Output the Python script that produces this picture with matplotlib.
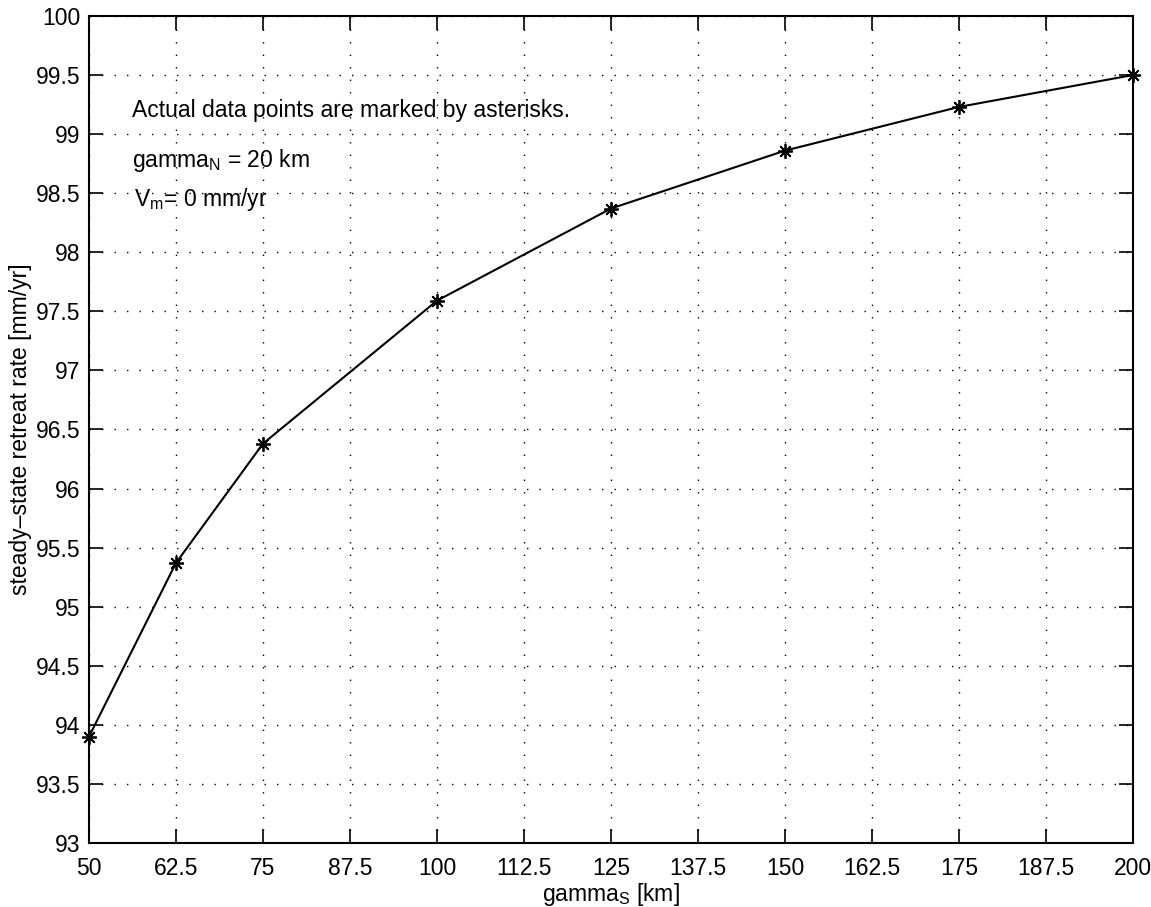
import numpy as np
import matplotlib.pyplot as plt

plt.rcParams['font.family'] = ['Liberation Sans', 'DejaVu Sans']
plt.rcParams['mathtext.fontset'] = 'custom'
plt.rcParams['mathtext.rm'] = 'Liberation Sans'
plt.rcParams['mathtext.it'] = 'Liberation Sans'

# southern gamma [km] vs steady-state retreat rate [mm/yr]
gamma_s = [50, 62.5, 75, 100, 125, 150, 175, 200]
retreat_rate = [93.90, 95.37, 96.38, 97.59, 98.37, 98.86, 99.23, 99.50]

xticks = np.arange(50, 200.1, 12.5)
xticklabels = ['50', '62.5', '75', '87.5', '100', '112.5', '125', '137.5',
               '150', '162.5', '175', '187.5', '200']
yticks = np.arange(93, 100.01, 0.5)
yticklabels = ['93', '93.5', '94', '94.5', '95', '95.5', '96', '96.5',
               '97', '97.5', '98', '98.5', '99', '99.5', '100']

fs = 16.5
fig = plt.figure(figsize=(11.51, 9.07), dpi=100)
ax = fig.add_axes([0.0773, 0.0706, 0.9070, 0.9118])

ax.plot(gamma_s, retreat_rate, color='black', linewidth=1.5,
        marker=(8, 2, 0), markersize=10.5, markeredgewidth=1.3, clip_on=False,
        zorder=5)

ax.set_xlim(50, 200)
ax.set_ylim(93, 100)
ax.set_xticks(xticks)
ax.set_xticklabels(xticklabels)
ax.set_yticks(yticks)
ax.set_yticklabels(yticklabels)
ax.tick_params(direction='in', length=10, width=1.2, labelsize=fs,
               top=True, right=True, colors='black')
ax.tick_params(axis='x', pad=10)
ax.tick_params(axis='y', pad=6)
for s in ax.spines.values():
    s.set_linewidth(1.5)

ax.grid(True, color='black', linestyle=(0, (1, 8)), linewidth=1.0)

ax.set_xlabel('gamma$_{\\mathrm{S}}$ [km]', fontsize=fs, labelpad=1)
ax.set_ylabel('steady\u2013state retreat rate [mm/yr]', fontsize=fs, labelpad=3)

ax.text(56.2, 99.2, 'Actual data points are marked by asterisks.',
        fontsize=fs, va='center', ha='left')
ax.text(56.2, 98.78, 'gamma$_{\\mathrm{N}}$ = 20 km',
        fontsize=fs, va='center', ha='left')
ax.text(56.4, 98.45, 'V$_{\\mathrm{m}}$= 0 mm/yr',
        fontsize=fs, va='center', ha='left')

fig.savefig('out.png', dpi=100)
